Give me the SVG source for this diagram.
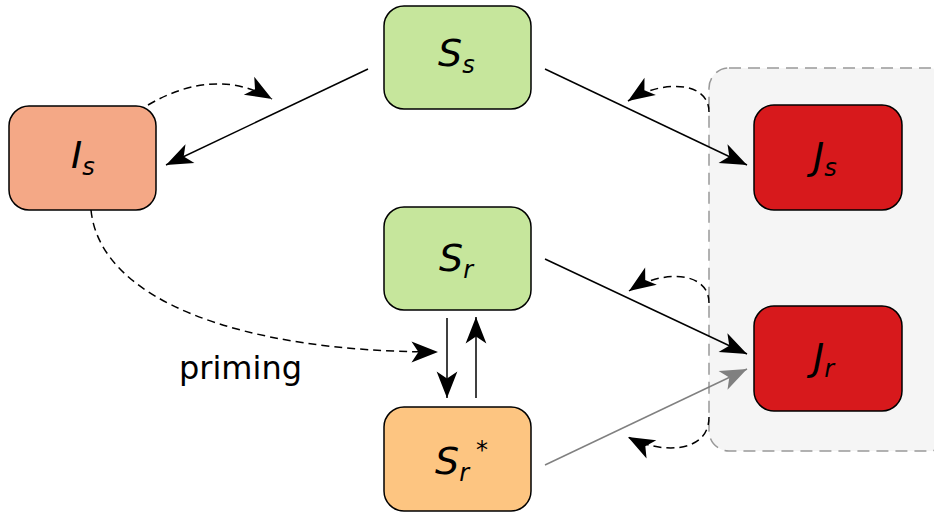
<svg xmlns="http://www.w3.org/2000/svg" width="934" height="514" viewBox="0 0 934 514">
<style>
.box{stroke:#000;stroke-width:1.5}
.lbl{font-family:"DejaVu Sans",sans-serif;font-style:oblique;font-size:38px;fill:#000}
.sub{font-size:24px}
.ln{fill:none;stroke:#000;stroke-width:1.5}
.dsh{fill:none;stroke:#000;stroke-width:1.5;stroke-dasharray:8 5}
.txt{font-family:"DejaVu Sans",sans-serif;font-size:32px;fill:#000}
</style>
<defs>
<marker id="ah" markerUnits="userSpaceOnUse" markerWidth="30" markerHeight="30" viewBox="-24 -12 26 24" refX="0" refY="0" orient="auto"><path d="M0,0 L-23,-9 L-17,0 L-23,9 Z" fill="#000"/></marker>
<marker id="ahg" markerUnits="userSpaceOnUse" markerWidth="30" markerHeight="30" viewBox="-24 -12 26 24" refX="0" refY="0" orient="auto"><path d="M0,0 L-23,-9 L-17,0 L-23,9 Z" fill="#808080"/></marker>
</defs>
<g id="group"><rect x="709" y="68" width="240" height="383" rx="20" fill="#f5f5f5" stroke="#999" stroke-width="1.5" stroke-dasharray="12 7"/></g>
<g id="Ss"><rect class="box" x="384" y="6" width="147" height="103" rx="20" fill="#c6e69c"/><text class="lbl" x="438" y="66">S<tspan class="sub" dy="7">s</tspan></text></g>
<g id="Is"><rect class="box" x="9" y="106" width="147" height="104" rx="20" fill="#f4a886"/><text class="lbl" x="71" y="168">I<tspan class="sub" dy="7">s</tspan></text></g>
<g id="Sr"><rect class="box" x="384" y="207" width="147" height="103" rx="20" fill="#c6e69c"/><text class="lbl" x="439" y="271">S<tspan class="sub" dy="7">r</tspan></text></g>
<g id="Srstar"><rect class="box" x="384" y="407" width="147" height="104" rx="20" fill="#fdc581"/><text class="lbl" x="435" y="474">S<tspan class="sub" dy="7">r</tspan><tspan class="sub" x="476" y="458">*</tspan></text></g>
<g id="Js"><rect class="box" x="754" y="105" width="148" height="105" rx="20" fill="#d7191c"/><text class="lbl" x="813" y="169">J<tspan class="sub" dy="7">s</tspan></text></g>
<g id="Jr"><rect class="box" x="754" y="306" width="148" height="105" rx="20" fill="#d7191c"/><text class="lbl" x="813" y="370">J<tspan class="sub" dy="7">r</tspan></text></g>
<g id="connectors">
<path class="ln" d="M368,69 L166,165" marker-end="url(#ah)"/>
<path class="ln" d="M545,69 L747,165" marker-end="url(#ah)"/>
<path class="ln" d="M545,259 L747,354" marker-end="url(#ah)"/>
<path d="M545,465 L747,369" fill="none" stroke="#808080" stroke-width="1.5" marker-end="url(#ahg)"/>
<path class="ln" d="M447,318 L447,398" marker-end="url(#ah)"/>
<path class="ln" d="M476,398 L476,317" marker-end="url(#ah)"/>
<path class="dsh" d="M148,105 Q215,66 272,99" marker-end="url(#ah)"/>
<path class="dsh" d="M709,112 C709,80 660,80 628,101" marker-end="url(#ah)"/>
<path class="dsh" d="M709,303 C709,270 660,270 629,291" marker-end="url(#ah)"/>
<path class="dsh" d="M709,417 C709,454 660,454 628,437" marker-end="url(#ah)"/>
<path class="dsh" d="M91,210 C100,300 240,352 438,352" marker-end="url(#ah)"/>
</g>
<text class="txt" x="179" y="379">priming</text>
</svg>
